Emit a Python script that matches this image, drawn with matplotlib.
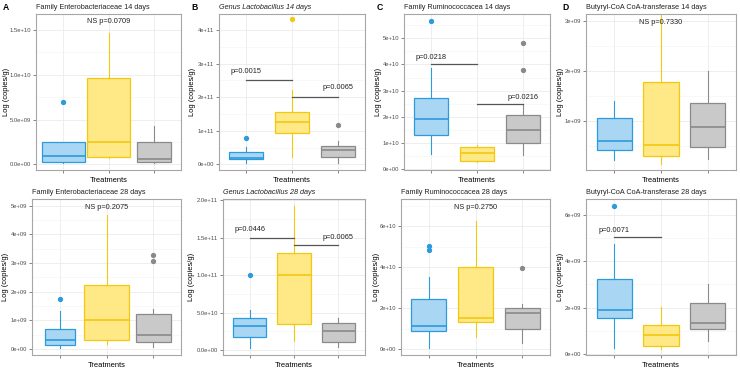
import matplotlib
matplotlib.use("Agg")
import matplotlib.pyplot as plt
from matplotlib.ticker import FixedLocator, AutoMinorLocator

plt.rcParams['font.family'] = ['Liberation Sans', 'DejaVu Sans']

# box stats per group: [whisker low, q1, median, q3, whisker high]
groups = ["blue", "yellow", "gray"]

ent14_stats = [[0.12e9, 0.22e9, 0.93e9, 2.46e9, 2.46e9],
               [0.7e9, 0.78e9, 2.46e9, 9.66e9, 14.7e9],
               [0.1e9, 0.3e9, 0.56e9, 2.46e9, 4.29e9]]
ent14_out = [[6.94e9], [], []]

lac14_stats = [[0.05e11, 0.15e11, 0.2e11, 0.36e11, 0.53e11],
               [0.23e11, 0.92e11, 1.26e11, 1.55e11, 2.2e11],
               [0.03e11, 0.21e11, 0.42e11, 0.55e11, 0.7e11]]
lac14_out = [[0.79e11], [4.32e11], [1.17e11]]

rum14_stats = [[0.58e10, 1.31e10, 1.92e10, 2.74e10, 3.86e10],
               [0.27e10, 0.34e10, 0.63e10, 0.85e10, 0.93e10],
               [0.57e10, 1.02e10, 1.52e10, 2.07e10, 2.46e10]]
rum14_out = [[5.66e10], [], [3.79e10, 4.81e10]]

but14_stats = [[0.22e9, 0.42e9, 0.60e9, 1.07e9, 1.41e9],
               [0.15e9, 0.30e9, 0.52e9, 1.77e9, 3.11e9],
               [0.25e9, 0.48e9, 0.88e9, 1.37e9, 1.99e9]]
but14_out = [[], [], []]

ent28_stats = [[0.02e9, 0.13e9, 0.30e9, 0.69e9, 1.33e9],
               [0.17e9, 0.31e9, 1.02e9, 2.23e9, 4.67e9],
               [0.07e9, 0.23e9, 0.5e9, 1.23e9, 1.4e9]]
ent28_out = [[1.76e9], [], [3.06e9, 3.26e9]]

lac28_stats = [[0.27e10, 1.81e10, 3.27e10, 4.34e10, 5.36e10],
               [1.24e10, 3.45e10, 1.01e11, 1.30e11, 1.92e11],
               [0.4e10, 1.06e10, 2.61e10, 3.67e10, 4.34e10]]
lac28_out = [[1.0e11], [], []]

rum28_stats = [[0.05e10, 0.91e10, 1.14e10, 2.44e10, 3.51e10],
               [0.6e10, 1.35e10, 1.53e10, 4.0e10, 6.28e10],
               [0.29e10, 1.0e10, 1.76e10, 2.0e10, 2.23e10]]
rum28_out = [[4.83e10, 5.02e10], [], [3.98e10]]

but28_stats = [[0.29e9, 1.58e9, 1.92e9, 3.22e9, 4.72e9],
               [0.21e9, 0.36e9, 0.81e9, 1.24e9, 2.04e9],
               [0.58e9, 1.08e9, 1.35e9, 2.2e9, 3.04e9]]
but28_out = [[6.37e9], [], []]

titles = ["Family Enterobacteriaceae 14 days", "Genus Lactobacillus 14 days",
          "Family Ruminococcacea 14 days", "Butyryl-CoA CoA-transferase 14 days",
          "Family Enterobacteriaceae 28 days", "Genus Lactobacillus 28 days",
          "Family Ruminococcacea 28 days", "Butyryl-CoA CoA-transferase 28 days"]

yticks = [[0, 5e9, 1e10, 1.5e10], [0, 1e11, 2e11, 3e11, 4e11],
          [0, 1e10, 2e10, 3e10, 4e10, 5e10], [1e9, 2e9, 3e9],
          [0, 1e9, 2e9, 3e9, 4e9, 5e9], [0, 5e10, 1e11, 1.5e11, 2e11],
          [0, 2e10, 4e10, 6e10], [0, 2e9, 4e9, 6e9]]
ytick_labels = [["0.0e+00", "5.0e+09", "1.0e+10", "1.5e+10"],
                ["0e+00", "1e+11", "2e+11", "3e+11", "4e+11"],
                ["0e+00", "1e+10", "2e+10", "3e+10", "4e+10", "5e+10"],
                ["1e+09", "2e+09", "3e+09"],
                ["0e+00", "1e+09", "2e+09", "3e+09", "4e+09", "5e+09"],
                ["0.0e+00", "5.0e+10", "1.0e+11", "1.5e+11", "2.0e+11"],
                ["0e+00", "2e+10", "4e+10", "6e+10"],
                ["0e+00", "2e+09", "4e+09", "6e+09"]]
ylims = [(-0.63e9, 16.8e9), (-0.17e11, 4.48e11), (-0.02e10, 5.92e10), (0.03e9, 3.13e9),
         (-0.21e9, 5.23e9), (-0.66e10, 2.02e11), (-0.28e10, 7.33e10), (-0.03e9, 6.67e9)]

# "NS" texts: (panel, label, y)
ns_texts = [(0, "NS p=0.0709", 16.0e9), (3, "NS p=0.7330", 2.97e9),
            (4, "NS p=0.2075", 4.95e9), (6, "NS p=0.2750", 6.9e10)]
# brackets: (panel, x0, x1, y, label, text x, text y)
brackets = [(1, 1, 2, 2.5e11, "p=0.0015", 1, 2.78e11),
            (1, 2, 3, 2.0e11, "p=0.0065", 3, 2.28e11),
            (2, 1, 2, 4.0e10, "p=0.0218", 1, 4.28e10),
            (2, 2, 3, 2.49e10, "p=0.0216", 3, 2.75e10),
            (5, 1, 2, 1.5e11, "p=0.0446", 1, 1.61e11),
            (5, 2, 3, 1.40e11, "p=0.0065", 3, 1.50e11),
            (7, 1, 2, 5.03e9, "p=0.0071", 1, 5.33e9)]

all_stats = [ent14_stats, lac14_stats, rum14_stats, but14_stats,
             ent28_stats, lac28_stats, rum28_stats, but28_stats]
all_out = [ent14_out, lac14_out, rum14_out, but14_out,
           ent28_out, lac28_out, rum28_out, but28_out]

edge_cols = ["#2C9BDE", "#F2C811", "#8A8A8A"]
fill_cols = ["#A9D6F3", "#FFE886", "#C9C9C9"]
box_widths = [[0.95, 0.95, 0.75], [0.75] * 3, [0.75] * 3, [0.75] * 3,
              [0.65, 0.95, 0.75], [0.75] * 3, [0.75] * 3, [0.75] * 3]

# axes rectangles in pixels: left, top, right, bottom
W, H = 740, 370
rects = [(36, 14, 181, 170), (219, 14, 365, 170), (404, 14, 550, 170), (586, 14, 736, 170),
         (32, 199, 181, 355), (223, 199, 365, 355), (401, 199, 550, 355), (586, 199, 736, 355)]
# distance (px) from the axes left edge to the y label centre
ylab_off = [29, 26, 26, 26, 26, 31, 24, 26]

fig = plt.figure(figsize=(7.4, 3.7), dpi=100)

for i in range(8):
    l, t, r, b = rects[i]
    ax = fig.add_axes([l / W, 1 - b / H, (r - l) / W, (b - t) / H])
    for j in range(3):
        lo, q1, med, q3, hi = all_stats[i][j]
        st = dict(whislo=lo, q1=q1, med=med, q3=q3, whishi=hi, fliers=all_out[i][j])
        ax.bxp([st], positions=[j + 1], widths=box_widths[i][j], patch_artist=True,
               showcaps=False,
               boxprops=dict(facecolor=fill_cols[j], edgecolor=edge_cols[j], linewidth=0.9),
               medianprops=dict(color=edge_cols[j], linewidth=1.2),
               whiskerprops=dict(color=edge_cols[j], linewidth=0.8),
               flierprops=dict(marker='o', markersize=2.8, markerfacecolor=edge_cols[j],
                               markeredgecolor=edge_cols[j]))
    ax.set_xlim(0.4, 3.6)
    ax.set_ylim(*ylims[i])
    ax.set_xticks([1, 2, 3])
    ax.set_xticklabels([])
    ax.yaxis.set_major_locator(FixedLocator(yticks[i]))
    ax.set_yticklabels(ytick_labels[i])
    ax.yaxis.set_minor_locator(AutoMinorLocator(2))
    ax.tick_params(axis='both', which='major', length=2.2, width=0.5, color="#555555",
                   labelsize=4.2, labelcolor="#4d4d4d", pad=1.2)
    ax.tick_params(axis='y', which='minor', length=0)
    ax.grid(True, which='major', color="#EBEBEB", linewidth=0.6)
    ax.grid(True, which='minor', axis='y', color="#F4F4F4", linewidth=0.4)
    ax.set_axisbelow(True)
    for s in ax.spines.values():
        s.set_color("#A6A6A6")
        s.set_linewidth(0.8)
    ax.set_xlabel("Treatments", fontsize=5.4, labelpad=1.5)
    ax.set_ylabel("Log (copies/g)", fontsize=5.4)
    ax.yaxis.set_label_coords(-(ylab_off[i] - 3.5) / (r - l), 0.5)
    style = 'italic' if i in (1, 5) else 'normal'
    ax.set_title(titles[i], loc='left', fontsize=5.2, pad=3.5, style=style, color="#222222")

    for p, lab, y in ns_texts:
        if p == i:
            ax.text(2, y, lab, ha='center', va='center', fontsize=5.3, color="#222222")
    for p, x0, x1, y, lab, tx, ty in brackets:
        if p == i:
            ax.plot([x0, x1], [y, y], color="#555555", linewidth=0.9)
            ax.text(tx, ty, lab, ha='center', va='center', fontsize=5.3, color="#222222")

for lab, x in zip(["A", "B", "C", "D"], [3, 191, 377, 562]):
    fig.text(x / W, 1 - 7 / H, lab, fontsize=6.2, fontweight='bold', ha='left', va='center')

fig.savefig("out.png", dpi=100)
